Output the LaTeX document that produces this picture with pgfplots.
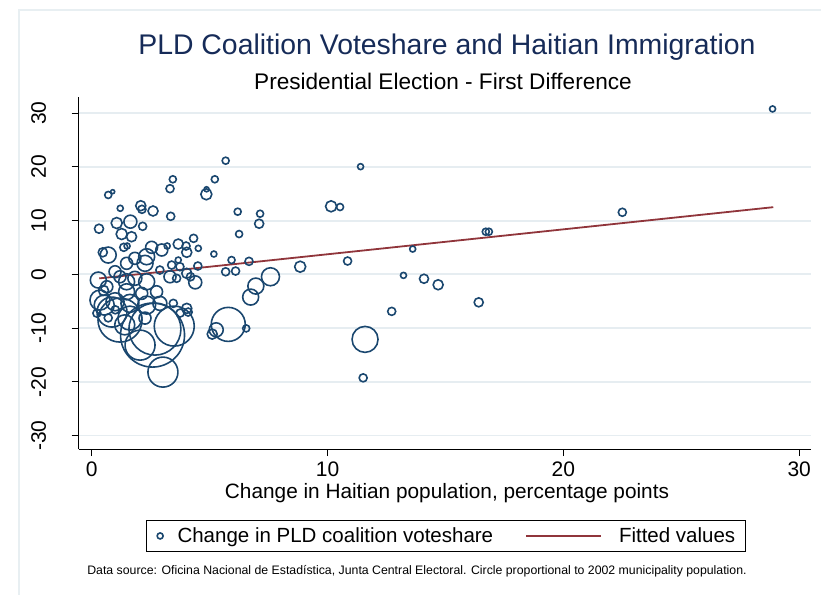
\documentclass[border=0pt]{standalone}
\usepackage{pgfplots}
\pgfplotsset{compat=1.18}
\usepackage{pgfplotstable}
\usepackage{fontspec}
\setmainfont{Liberation Sans}
\definecolor{stataBlue}{RGB}{26,71,111}
\definecolor{fitred}{RGB}{144,53,59}
\definecolor{titlec}{RGB}{22,43,88}
\definecolor{gridc}{RGB}{230,237,241}
\definecolor{framec}{RGB}{232,239,242}
\pgfplotstableread{
x y r
28.87 30.78 3
22.50 11.55 4
16.71 7.93 3.5
16.84 7.93 3.5
16.41 -5.21 4.5
14.69 -1.94 5
14.09 -0.82 4.5
13.61 4.71 3
13.22 -0.19 3
12.72 -6.89 4
11.59 -12.10 13
11.51 -19.26 4
11.40 20.04 3
10.85 2.48 4
10.15 12.66 5.5
10.53 12.53 3.5
8.84 1.42 5.5
7.58 -0.45 9
6.96 -2.18 8
6.74 -4.23 8
6.55 -10.06 3.5
5.79 -9.31 17
5.28 -10.32 7
5.11 -11.12 5
7.14 11.28 3.5
7.10 9.42 4.5
6.25 7.50 3.5
6.19 11.66 3.5
5.68 21.15 3.5
5.22 17.69 3.5
4.87 15.83 2.5
4.86 14.90 5.5
6.67 2.42 4
5.93 2.66 3.5
5.68 0.48 4
6.10 0.61 4
5.18 3.78 3
4.52 4.84 3
4.32 6.70 4
4.00 5.27 4
4.03 4.10 5
4.39 -1.49 6.5
4.19 -0.45 4
4.09 -7.02 4
4.50 1.55 4
3.44 17.69 3.5
3.32 15.94 4
3.35 10.80 4
2.60 11.79 5
2.13 12.10 4
2.08 12.77 5
1.21 12.29 3
0.89 15.38 2
0.70 14.77 3.5
0.31 8.49 4.5
1.06 9.55 5.5
1.64 9.80 6.5
2.16 8.94 4
1.27 7.50 5.5
1.69 7.00 5
1.36 5.03 4
1.50 5.27 3
0.47 4.10 4.5
0.70 3.59 8
2.54 5.03 6
2.97 4.53 6
3.20 5.27 3
3.67 5.64 5
0.28 -1.06 8
1.48 2.05 6
1.83 2.98 6
2.33 3.28 8
2.26 2.05 8
2.89 0.80 4
3.39 1.73 4
3.74 1.42 4
3.67 2.66 3
4.03 0.19 5
3.32 -0.45 6
3.60 -0.74 4
0.99 0.48 6
1.20 -0.45 6
1.48 -1.38 8
1.83 -0.74 7
2.33 -1.38 8
0.64 -2.31 6
1.48 -3.24 8
2.12 -3.54 6
2.75 -3.24 6
0.35 -4.79 10
0.99 -5.10 9
1.62 -5.40 9
2.33 -5.72 9
2.89 -5.40 7
3.46 -5.40 4
4.03 -6.33 5
2.58 -11.30 32
2.68 -10.19 26
3.50 -9.63 20
3.02 -18.19 15
1.20 -8.51 22
0.86 -7.02 15
0.53 -5.72 10
0.22 -7.23 4
1.62 -8.14 12
2.05 -13.17 15
1.40 -9.40 10
0.70 -8.10 4
1.00 -6.60 4
0.50 -3.00 5
2.26 -8.14 6
3.75 -7.20 4
}\pts
\begin{document}
\begin{tikzpicture}
\path[use as bounding box] (0pt,0pt) rectangle (821pt,-594pt);
\draw[framec, line width=1.5pt] (19pt,-600pt) -- (19pt,-10pt) -- (830pt,-10pt);
\begin{axis}[
  scale only axis, width=732.5pt, height=352pt,
  at={(78.5pt,-449pt)}, anchor=south west,
  xmin=-0.56, xmax=30.5, ymin=-32.5, ymax=33,
  axis lines*=left,
  axis line style={line width=1pt, black},
  xtick={0,10,20,30}, ytick={-30,-20,-10,0,10,20,30},
  tick align=outside, major tick length=7pt,
  tick style={line width=1pt, black},
  ymajorgrids, grid style={gridc, line width=1.8pt},
  /pgf/number format/assume math mode=true,
  ticklabel style={font=\fontsize{21}{21}\selectfont},
  yticklabel style={rotate=90, anchor=south},
  yticklabel shift=22pt,
  xticklabel shift=2pt,
  clip=false,
  legend style={at={(0.5017,-0.247)}, anchor=center, draw=black, line width=0.8pt,
    font=\fontsize{20.5}{24}\selectfont, legend columns=2,
    /tikz/every even column/.append style={column sep=30pt},
    /tikz/every odd column/.append style={column sep=10pt},
    inner xsep=8pt, inner ysep=5pt},
  legend cell align=left,
]
\addplot[scatter, only marks, mark=o,
  scatter src=explicit,
  scatter/use mapped color={draw=stataBlue},
  visualization depends on={\thisrow{r}\as\rad},
  scatter/@pre marker code/.append style={/tikz/mark size=\rad pt},
  mark options={line width=1.6pt},
  legend image code/.code={\path (-5pt,0pt) (5pt,0pt); \draw[stataBlue,line width=1.6pt] (0pt,0pt) circle (3pt);}
] table[x=x,y=y,meta=r] {\pts};
\addlegendentry{Change in PLD coalition voteshare}
\addplot[fitred, line width=1.8pt, legend image code/.code={\path (0pt,0pt) (80pt,0pt); \draw[fitred, line width=1.8pt] (0pt,0pt) -- (75pt,0pt);}] coordinates {(0.32,-0.75) (28.9,12.5)};
\addlegendentry{Fitted values}
\end{axis}
\node[titlec, font=\fontsize{28.4}{30}\selectfont] at (447pt,-47pt) {PLD Coalition Voteshare and Haitian Immigration};
\node[black, font=\fontsize{22.6}{24}\selectfont] at (443pt,-81pt) {Presidential Election - First Difference};
\node[black, font=\fontsize{20.8}{22}\selectfont] at (447pt,-493pt) {Change in Haitian population, percentage points};
\node[black, font=\fontsize{12.3}{13}\selectfont] at (417pt,-571pt) {Data source: Oficina Nacional de Estadística, Junta Central Electoral. Circle proportional to 2002 municipality population.};
\end{tikzpicture}
\end{document}
